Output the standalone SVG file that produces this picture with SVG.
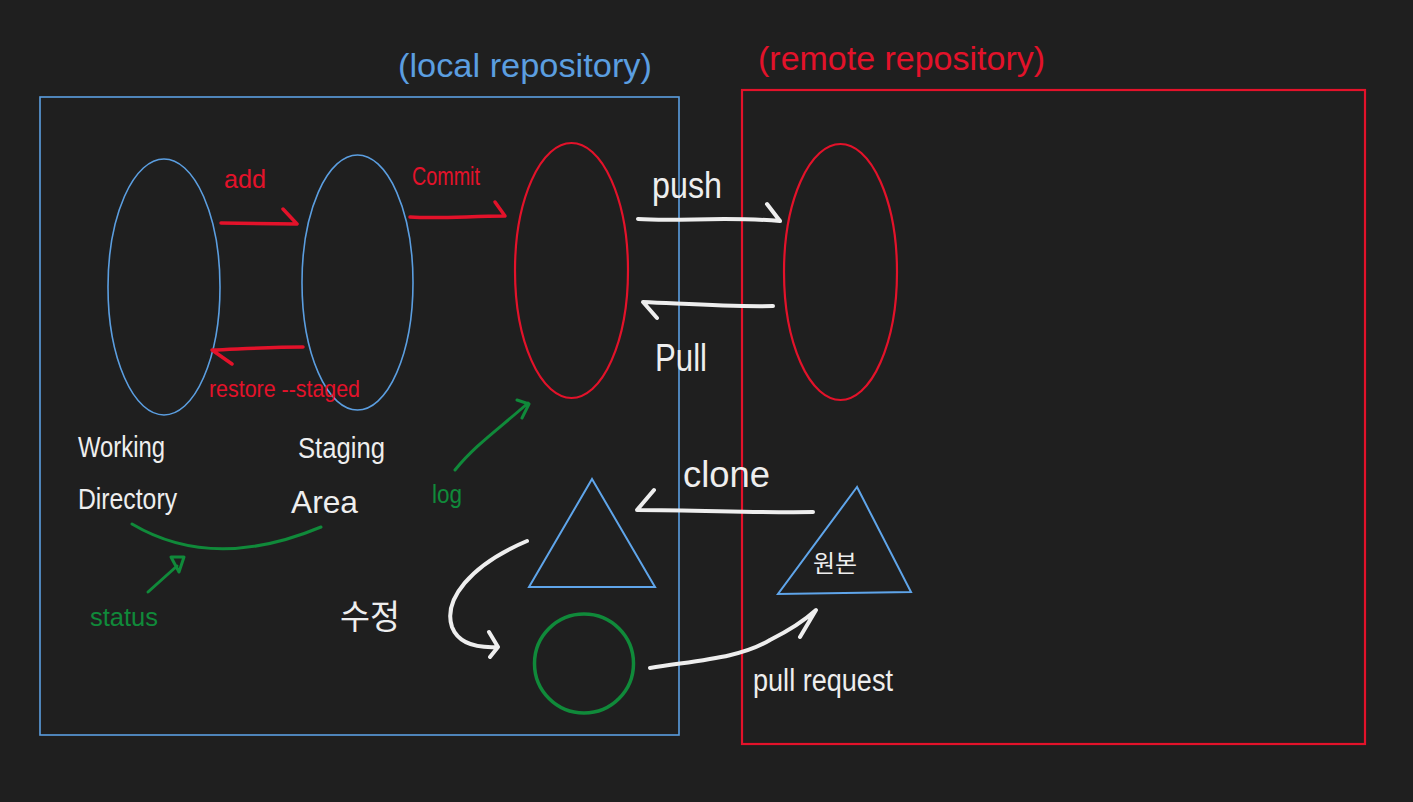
<svg xmlns="http://www.w3.org/2000/svg" width="1413" height="802" viewBox="0 0 1413 802">
<style>
.bg{fill:#1f1f1f}
.blue{fill:none;stroke:#5b9ee0;stroke-width:1.6}
.red{fill:none;stroke:#e3122a;stroke-width:2.2}
.tri{fill:none;stroke:#5fa5ea;stroke-width:2}
.ink{fill:none;stroke-linecap:round;stroke-linejoin:round}
.w{stroke:#eeeeee;stroke-width:4}
.r{stroke:#e3122a;stroke-width:3.5}
.g{stroke:#108a3a;stroke-width:3}
text{font-family:"Liberation Sans","Noto Sans","Noto Sans CJK KR",sans-serif}
.tw{fill:#eeeeee}
.tr{fill:#e3122a}
.tg{fill:#108a3a}
.tb{fill:#5b9ee0}
</style>
<rect class="bg" x="0" y="0" width="1413" height="802"/>
<g id="local-repository">
<rect class="blue" x="40" y="97" width="639" height="638"/>
<text class="tb" x="398" y="77" font-size="33" textLength="254" lengthAdjust="spacingAndGlyphs">(local repository)</text>
</g>
<g id="remote-repository">
<rect class="red" x="742" y="90" width="623" height="654"/>
<text class="tr" x="758" y="70" font-size="33" textLength="287" lengthAdjust="spacingAndGlyphs">(remote repository)</text>
</g>
<g id="working-directory">
<ellipse class="blue" cx="164" cy="287" rx="56" ry="128"/>
<text class="tw" x="78" y="457" font-size="29" textLength="87" lengthAdjust="spacingAndGlyphs">Working</text>
<text class="tw" x="78" y="509" font-size="29" textLength="99" lengthAdjust="spacingAndGlyphs">Directory</text>
</g>
<g id="staging-area">
<ellipse class="blue" cx="357.5" cy="282.5" rx="55.5" ry="127.5"/>
<text class="tw" x="298" y="458" font-size="30" textLength="87" lengthAdjust="spacingAndGlyphs">Staging</text>
<text class="tw" x="291" y="513" font-size="32" textLength="67" lengthAdjust="spacingAndGlyphs">Area</text>
</g>
<g id="local-repo">
<ellipse class="red" cx="571.5" cy="270.5" rx="56.5" ry="127.5"/>
</g>
<g id="remote-repo">
<ellipse class="red" cx="840.5" cy="272" rx="56.5" ry="128"/>
</g>
<g id="local-copy">
<polygon class="tri" points="592,479 529,587 655,587"/>
</g>
<g id="original">
<polygon class="tri" points="857,487 778,594 911,592"/>
<text class="tw" x="835" y="572" font-size="24" text-anchor="middle">원본</text>
</g>
<g id="modified">
<circle cx="584" cy="663.5" r="49.5" fill="none" stroke="#108a3a" stroke-width="3.5"/>
<text class="tw" x="340" y="629" font-size="34" textLength="60" lengthAdjust="spacingAndGlyphs">수정</text>
</g>
<g id="connectors">
<path class="ink r" d="M221,223 L297,224 M283,209 L297,224"/>
<text class="tr" x="224" y="188" font-size="25" textLength="42" lengthAdjust="spacingAndGlyphs">add</text>
<path class="ink r" d="M410,217 C440,219 470,216 505,216 M495,202 L505,216"/>
<text class="tr" x="412" y="185" font-size="26" textLength="68" lengthAdjust="spacingAndGlyphs">Commit</text>
<path class="ink r" d="M303,347 C270,347 240,349 212,350 L232,364"/>
<text class="tr" x="209" y="397" font-size="24" textLength="151" lengthAdjust="spacingAndGlyphs">restore --staged</text>
<path class="ink w" d="M638,219 C680,222 720,216 780,221 M767,204 L780,221"/>
<text class="tw" x="652" y="198" font-size="36" textLength="70" lengthAdjust="spacingAndGlyphs">push</text>
<path class="ink w" d="M773,306 C730,307 690,304 643,302 L657,318"/>
<text class="tw" x="655" y="371" font-size="38" textLength="52" lengthAdjust="spacingAndGlyphs">Pull</text>
<path class="ink w" d="M813,512 C760,513 700,510 637,510 L654,490"/>
<text class="tw" x="683" y="487" font-size="36" textLength="87" lengthAdjust="spacingAndGlyphs">clone</text>
<path class="ink w" d="M527,541 C470,565 443,600 452,627 C459,645 480,648 498,647 M489,632 L498,647 L490,657"/>
<path class="ink w" d="M650,668 C700,660 740,658 770,640 C790,630 805,620 816,610 L800,637"/>
<text class="tw" x="753" y="691" font-size="31" textLength="140" lengthAdjust="spacingAndGlyphs">pull request</text>
<path class="ink g" d="M455,470 C475,445 500,428 528,403 M517,400 L529,404 L522,418"/>
<text class="tg" x="432" y="503" font-size="26" textLength="30" lengthAdjust="spacingAndGlyphs">log</text>
<path class="ink g" d="M132,524 Q213,572 321,527"/>
<path class="ink g" d="M148,592 L177,566 M171,557 L184,557 L179,572 Z"/>
<text class="tg" x="90" y="626" font-size="26" textLength="68" lengthAdjust="spacingAndGlyphs">status</text>
</g>
</svg>
